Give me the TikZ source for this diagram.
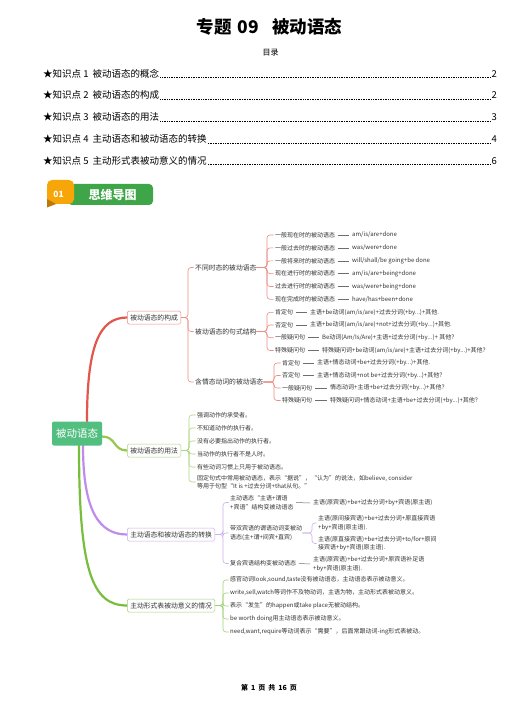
\documentclass[tikz,border=0pt]{standalone}
\usepackage{fontspec}
\setmainfont{Noto Sans CJK SC}
\definecolor{txt}{RGB}{51,51,51}
\definecolor{rootg}{RGB}{82,190,128}
\definecolor{redT}{RGB}{226,86,76}
\definecolor{redL}{RGB}{236,140,130}
\definecolor{grnT}{RGB}{150,200,80}
\definecolor{grnL}{RGB}{175,215,130}
\definecolor{purT}{RGB}{190,140,235}
\definecolor{purL}{RGB}{205,175,235}
\definecolor{gr4T}{RGB}{120,190,60}
\definecolor{gr4L}{RGB}{160,210,120}
\definecolor{dashc}{RGB}{110,110,110}
\definecolor{bgreen}{RGB}{62,166,72}
\definecolor{borange}{RGB}{247,166,10}
\definecolor{bdark}{RGB}{190,120,10}
\pgfdeclarelayer{bg}
\pgfdeclarelayer{paper}
\pgfsetlayers{paper,bg,main}
\tikzset{
 toc/.style={inner sep=0pt, font=\fontsize{9.5}{11}\selectfont, text=black},
 leader/.style={line width=0.45pt, dash pattern=on 0.5pt off 1.2pt, black, shorten <=1pt, shorten >=1pt},
 rootbox/.style={fill=rootg, text=white, rounded corners=2pt, minimum width=50pt, minimum height=24pt, inner sep=0pt, font=\fontsize{10.5}{12}\selectfont},
 bbox/.style={draw, fill=white, text=txt, rounded corners=1.5pt, anchor=west, inner xsep=3pt, inner ysep=0pt, minimum height=13pt, line width=0.5pt, font=\fontsize{6.8}{8}\selectfont},
 mid/.style={anchor=west, inner sep=0pt, text=txt, font=\fontsize{6.8}{8}\selectfont},
 leaf/.style={anchor=west, inner sep=0pt, text=txt, font=\fontsize{6}{7}\selectfont},
 leaftwo/.style={anchor=west, inner sep=0pt, text=txt, align=left, font=\fontsize{6}{8.5}\selectfont},
 thickbr/.style={line width=2.2pt, line cap=round},
 brline/.style={line width=0.6pt, rounded corners=3pt, shorten >=1.5pt},
 dsh/.style={line width=0.5pt, dashc},
}
\newcommand{\mybrk}[4]{\draw[brline,#1] (#2.east) -- (#2.east -| #3) -- (#4.west -| #3) -- (#4.west);}
\newcommand{\mydash}[2]{\draw[dsh] ([xshift=2.5pt]#1.east) -- ([xshift=-3pt]#2.west);}
\begin{document}
\begin{tikzpicture}[x=1pt,y=-1pt]
\useasboundingbox (0,0) rectangle (531,711);
\begin{pgfonlayer}{paper}
\fill[white] (0,0) rectangle (531,711);
\end{pgfonlayer}

% title
\node[font=\bfseries\fontsize{17.5}{20}\selectfont, text=black] (title) at (269.5,26.7) {专题\hspace{6pt}09\hspace{13pt}被动语态};
\node[font=\fontsize{8}{9}\selectfont, text=black] (mulu) at (270.7,52.5) {目录};

% table of contents
\node[toc, anchor=base west] (t1) at (43,77.5) {★知识点 1\hspace{4pt}被动语态的概念};
\node[toc, anchor=base east] (p1) at (497,77.5) {2};
\draw[leader] (t1.base east) -- (p1.base west);
\node[toc, anchor=base west] (t2) at (43,99) {★知识点 2\hspace{4pt}被动语态的构成};
\node[toc, anchor=base east] (p2) at (497,99) {2};
\draw[leader] (t2.base east) -- (p2.base west);
\node[toc, anchor=base west] (t3) at (43,121) {★知识点 3\hspace{4pt}被动语态的用法};
\node[toc, anchor=base east] (p3) at (497,121) {3};
\draw[leader] (t3.base east) -- (p3.base west);
\node[toc, anchor=base west] (t4) at (43,143) {★知识点 4\hspace{4pt}主动语态和被动语态的转换};
\node[toc, anchor=base east] (p4) at (497,143) {4};
\draw[leader] (t4.base east) -- (p4.base west);
\node[toc, anchor=base west] (t5) at (43,164.5) {★知识点 5\hspace{4pt}主动形式表被动意义的情况};
\node[toc, anchor=base east] (p5) at (497,164.5) {6};
\draw[leader] (t5.base east) -- (p5.base west);

% banner
\fill[bgreen, rounded corners=4pt] (68,184) rectangle (153,205);
\fill[borange, rounded corners=5pt] (47,180) rectangle (74,204);
\fill[bdark] (47,199) -- (56,204) -- (47,207.5) -- cycle;
\node[font=\bfseries\fontsize{8.5}{9}\selectfont, text=white] (n01) at (58.5,194) {01};
\node[font=\bfseries\fontsize{12}{13}\selectfont, text=white] (swdt) at (112.5,194.5) {思维导图};

% root and main branches
\node[rootbox] (root) at (77,433.5) {被动语态};
\node[bbox, draw=redL] (b1) at (127,317.5) {被动语态的构成};
\node[bbox, draw=grnL] (b2) at (127,450.5) {被动语态的用法};
\node[bbox, draw=purL] (b3) at (127,534.5) {主动语态和被动语态的转换};
\node[bbox, draw=gr4L] (b4) at (127,605.5) {主动形式表被动意义的情况};

\begin{pgfonlayer}{bg}
\draw[thickbr, redT] ([xshift=10pt]root.north) .. controls +(0,-75) and +(-28,0) .. (b1.west);
\draw[thickbr, grnT] ([yshift=-3pt]root.east) .. controls +(14,0) and +(-14,0) .. (b2.west);
\draw[thickbr, purT] ([xshift=6pt]root.south) .. controls +(0,65) and +(-28,0) .. (b3.west);
\draw[thickbr, gr4T] ([xshift=2pt]root.south) .. controls +(0,125) and +(-35,0) .. (b4.west);
\end{pgfonlayer}

% junctions
\coordinate (j1) at (188,0);
\coordinate (j11) at (267,0);
\coordinate (j12) at (267,0);
\coordinate (j13) at (274,0);
\coordinate (j2) at (189,0);
\coordinate (j3) at (223,0);
\coordinate (j4) at (312,0);
\coordinate (j5) at (223,0);

% branch 1
\node[mid] (c11) at (195,267.5) {不同时态的被动语态};
\node[mid] (c12) at (195,331.5) {被动语态的句式结构};
\node[mid] (c13) at (195,382) {含情态动词的被动语态};
\mybrk{redL}{b1}{j1}{c11}
\mybrk{redL}{b1}{j1}{c12}
\mybrk{redL}{b1}{j1}{c13}

\node[leaf] (l11) at (275,235) {一般现在时的被动语态};
\node[leaf] (f11) at (352,235) {am/is/are+done};
\node[leaf] (l12) at (275,247.9) {一般过去时的被动语态};
\node[leaf] (f12) at (352,247.9) {was/were+done};
\node[leaf] (l13) at (275,260.8) {一般将来时的被动语态};
\node[leaf] (f13) at (352,260.8) {will/shall/be going+be done};
\node[leaf] (l14) at (275,273.6) {现在进行时的被动语态};
\node[leaf] (f14) at (352,273.6) {am/is/are+being+done};
\node[leaf] (l15) at (275,286.5) {过去进行时的被动语态};
\node[leaf] (f15) at (352,286.5) {was/were+being+done};
\node[leaf] (l16) at (275,299.3) {现在完成时的被动语态};
\node[leaf] (f16) at (352,299.3) {have/has+been+done};
\foreach \i in {11,12,13,14,15,16}{
  \mybrk{redL}{c11}{j11}{l\i}
  \mydash{l\i}{f\i}
}

\node[leaf] (l21) at (275,312.3) {肯定句};
\node[leaf] (f21) at (310,312.3) {主语+be动词(am/is/are)+过去分词(+by...)+其他.};
\node[leaf] (l22) at (275,325) {否定句};
\node[leaf] (f22) at (310,325) {主语+be动词(am/is/are)+not+过去分词(+by...)+其他.};
\node[leaf] (l23) at (275,337.7) {一般疑问句};
\node[leaf] (f23) at (322,337.7) {Be动词(Am/Is/Are)+主语+过去分词(+by...)+ 其他？};
\node[leaf] (l24) at (275,350.5) {特殊疑问句};
\node[leaf] (f24) at (322,350.5) {特殊疑问词+be动词(am/is/are)+主语+过去分词(+by...)+其他？};
\foreach \i in {21,22,23,24}{
  \mybrk{redL}{c12}{j12}{l\i}
  \mydash{l\i}{f\i}
}

\node[leaf] (l31) at (282,363) {肯定句};
\node[leaf] (f31) at (317,363) {主语+情态动词+be+过去分词(+by...)+其他.};
\node[leaf] (l32) at (282,375.5) {否定句};
\node[leaf] (f32) at (317,375.5) {主语+情态动词+not be+过去分词(+by...)+其他？};
\node[leaf] (l33) at (282,388) {一般疑问句};
\node[leaf] (f33) at (330,388) {情态动词+主语+be+过去分词(+by...)+其他？};
\node[leaf] (l34) at (282,400.5) {特殊疑问句};
\node[leaf] (f34) at (330,400.5) {特殊疑问词+情态动词+主语+be+过去分词(+by...)+其他？};
\foreach \i in {31,32,33,34}{
  \mybrk{redL}{c13}{j13}{l\i}
  \mydash{l\i}{f\i}
}

% branch 2
\node[leaf] (u1) at (197,415) {强调动作的承受者。};
\node[leaf] (u2) at (197,428) {不知道动作的执行者。};
\node[leaf] (u3) at (197,441) {没有必要指出动作的执行者。};
\node[leaf] (u4) at (197,454) {当动作的执行者不是人时。};
\node[leaf] (u5) at (197,467) {有些动词习惯上只用于被动语态。};
\node[leaftwo] (u6) at (197,482) {固定句式中常用被动语态，表示“据说”，“认为”的说法，如believe, consider\\等用于句型“It is +过去分词+that从句。”};
\foreach \i in {1,...,6}{
  \mybrk{grnL}{b2}{j2}{u\i}
}

% branch 3
\node[leaftwo] (d1) at (230,502.5) {主动语态“主语+谓语\\+宾语”结构变被动语态};
\node[leaftwo] (d2) at (230,533) {带双宾语的谓语动词变被动\\语态(主+谓+间宾+直宾)};
\node[leaf] (d3) at (230,563.5) {复合宾语结构变被动语态};
\mybrk{purL}{b3}{j3}{d1}
\mybrk{purL}{b3}{j3}{d2}
\mybrk{purL}{b3}{j3}{d3}
\node[leaf] (g1) at (313,503) {主语(原宾语)+be+过去分词+by+宾语(原主语)};
\mydash{d1}{g1}
\node[leaftwo] (e1) at (318,523) {主语(原间接宾语)+be+过去分词+原直接宾语\\+by+宾语(原主语).};
\node[leaftwo] (e2) at (318,543.5) {主语(原直接宾语)+be+过去分词+to/for+原间\\接宾语+by+宾语(原主语).};
\mybrk{purL}{d2}{j4}{e1}
\mybrk{purL}{d2}{j4}{e2}
\node[leaftwo] (g3) at (313,564) {主语(原宾语)+be+过去分词+原宾语补足语\\+by+宾语(原主语).};
\mydash{d3}{g3}

% branch 4
\node[leaf] (v1) at (230,580) {感官动词look,sound,taste没有被动语态，主动语态表示被动意义。};
\node[leaf] (v2) at (230,593) {write,sell,watch等词作不及物动词，主语为物，主动形式表被动意义。};
\node[leaf] (v3) at (230,606) {表示“发生”的happen或take place无被动结构。};
\node[leaf] (v4) at (230,619) {be worth doing用主动语态表示被动意义。};
\node[leaf] (v5) at (230,632) {need,want,require等动词表示“需要”，后面常跟动词-ing形式表被动。};
\foreach \i in {1,...,5}{
  \mybrk{gr4L}{b4}{j5}{v\i}
}

% footer
\node[font=\bfseries\fontsize{7}{8}\selectfont, text=black] (foot) at (269,688.3) {第\hspace{3pt}1\hspace{3pt}页\hspace{3pt}共\hspace{3pt}16\hspace{3pt}页};
\end{tikzpicture}
\end{document}
